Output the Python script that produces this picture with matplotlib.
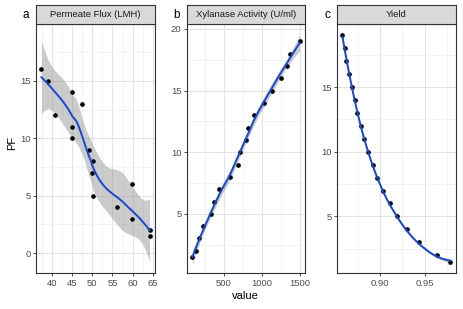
import math
import numpy as np
import matplotlib
matplotlib.use("Agg")
import matplotlib.pyplot as plt
from matplotlib.ticker import FixedLocator

plt.rcParams['font.family'] = ['Liberation Sans', 'DejaVu Sans']

# ---------------- data ----------------
flux_x = [37.4, 39.0, 40.8, 44.9, 47.4, 45.0, 45.0, 49.1, 50.3, 50.0, 50.1, 56.1, 59.9, 59.9, 64.2, 64.2]
flux_pf = [16, 15, 12, 14, 13, 11, 10, 9, 8, 7, 5, 4, 6, 3, 2, 1.5]

xyl_x = [91, 143, 182, 233, 341, 380, 435, 590, 690, 711, 789, 819, 897, 1022, 1138, 1245, 1336, 1375, 1495]
xyl_pf = [1.5, 2, 3, 4, 5, 6, 7, 8, 9, 10, 11, 12, 13, 14, 15, 16, 17, 18, 19]

yield_x = [0.8581, 0.8604, 0.8626, 0.8656, 0.8686, 0.8719, 0.8748, 0.8786, 0.8822, 0.8870,
           0.8919, 0.8970, 0.9033, 0.9108, 0.9196, 0.9303, 0.9441, 0.9641, 0.9786]
yield_pf = [19, 18, 17, 16, 15, 14, 13, 12, 11, 10, 9, 8, 7, 6, 5, 4, 3, 2, 1.5]

titles = ["Permeate Flux (LMH)", "Xylanase Activity (U/ml)", "Yield"]
tags = ["a", "b", "c"]


# ---------------- loess (as geom_smooth: span 0.75, degree 2, kd-tree interpolation) ----------------
def loess_rows(x, x0, span=0.75, degree=2):
    """Return operator rows for fitted value and first derivative at x0."""
    n = len(x)
    q = int(np.floor(n * span))
    d = np.abs(x - x0)
    h = max(np.sort(d)[q - 1], 1e-12)
    u = np.clip(d / h, 0, 1)
    w = (1 - u ** 3) ** 3
    X = np.vstack([(x - x0) ** k for k in range(degree + 1)]).T
    Wm = np.diag(w)
    B = np.linalg.pinv(X.T @ Wm @ X) @ X.T @ Wm
    return B[0], B[1]


def kd_vertices(x, span=0.75, cell=0.2):
    n = len(x)
    fc = int(np.floor(n * span * cell))
    lo, hi = x.min(), x.max()
    mu = 0.005 * (hi - lo)
    verts = {lo - mu, hi + mu}

    def split(pts):
        pts = np.sort(pts)
        m = len(pts)
        if m <= fc or pts[-1] - pts[0] <= 0:
            return
        v = (pts[(m - 1) // 2] + pts[m // 2]) / 2
        left = pts[pts <= v]
        right = pts[pts > v]
        if len(left) == 0 or len(right) == 0:
            return
        verts.add(v)
        split(left)
        split(right)

    split(x)
    return np.array(sorted(verts))


def interp_rows(x, verts, g):
    vals = [loess_rows(x, v) for v in verts]
    k = np.searchsorted(verts, g) - 1
    k = int(np.clip(k, 0, len(verts) - 2))
    x0, x1 = verts[k], verts[k + 1]
    hh = x1 - x0
    t = (g - x0) / hh
    h00 = 2 * t ** 3 - 3 * t ** 2 + 1
    h10 = t ** 3 - 2 * t ** 2 + t
    h01 = -2 * t ** 3 + 3 * t ** 2
    h11 = t ** 3 - t ** 2
    (f0, d0), (f1, d1) = vals[k], vals[k + 1]
    return h00 * f0 + h10 * hh * d0 + h01 * f1 + h11 * hh * d1


def t_quantile(p, df):
    c = math.gamma((df + 1) / 2) / (math.sqrt(df * math.pi) * math.gamma(df / 2))
    t = np.linspace(0, 30, 60001)
    pdf = c * (1 + t ** 2 / df) ** (-(df + 1) / 2)
    cdf = 0.5 + np.concatenate([[0], np.cumsum((pdf[1:] + pdf[:-1]) / 2 * np.diff(t))])
    return float(np.interp(p, cdf, t))


def loess_fit(xs, ys, ngrid=100):
    x = np.asarray(xs, float)
    y = np.asarray(ys, float)
    xm, sc = x.mean(), x.std()
    xs_ = (x - xm) / sc
    n = len(x)
    verts = kd_vertices(xs_)
    L = np.array([interp_rows(xs_, verts, xi) for xi in xs_])
    fitted = L @ y
    M = np.eye(n) - L
    MM = M.T @ M
    d1 = np.trace(MM)
    d2 = np.trace(MM @ MM)
    sigma2 = np.sum((y - fitted) ** 2) / d1
    tq = t_quantile(0.975, d1 ** 2 / d2)
    xg = np.linspace(x.min(), x.max(), ngrid)
    rows = np.array([interp_rows(xs_, verts, (g - xm) / sc) for g in xg])
    yg = rows @ y
    se = np.sqrt(sigma2 * np.sum(rows ** 2, axis=1))
    return xg, yg, yg - tq * se, yg + tq * se


# ---------------- figure ----------------
W, H = 463, 309
fig = plt.figure(figsize=(W / 100, H / 100), dpi=100)

panels = [
    dict(x=flux_x, y=flux_pf, left=36, right=155, xlim=(36.06, 65.54), ylim=(-1.74, 19.95),
         xmaj=[40, 45, 50, 55, 60, 65], xmin=[37.5, 42.5, 47.5, 52.5, 57.5, 62.5],
         ymaj=[0, 5, 10, 15], ymin=[2.5, 7.5, 12.5, 17.5], fmt="{:g}"),
    dict(x=xyl_x, y=xyl_pf, left=187, right=305, xlim=(21, 1565), ylim=(0.2, 20.4),
         xmaj=[500, 1000, 1500], xmin=[250, 750, 1250],
         ymaj=[5, 10, 15, 20], ymin=[2.5, 7.5, 12.5, 17.5], fmt="{:g}"),
    dict(x=yield_x, y=yield_pf, left=337, right=455.5, xlim=(0.852, 0.9846), ylim=(0.625, 19.875),
         xmaj=[0.90, 0.95], xmin=[0.875, 0.925, 0.975],
         ymaj=[5, 10, 15], ymin=[2.5, 7.5, 12.5, 17.5], fmt="{:.2f}"),
]

top_px, bot_px = 24, 273
strip_top = 5
border = "#333333"

for i, p in enumerate(panels):
    l = p["left"] / W
    w = (p["right"] - p["left"]) / W
    b = 1 - bot_px / H
    h = (bot_px - top_px) / H
    ax = fig.add_axes([l, b, w, h])
    ax.set_facecolor("white")
    ax.set_xlim(*p["xlim"])
    ax.set_ylim(*p["ylim"])
    ax.xaxis.set_major_locator(FixedLocator(p["xmaj"]))
    ax.xaxis.set_minor_locator(FixedLocator(p["xmin"]))
    ax.yaxis.set_major_locator(FixedLocator(p["ymaj"]))
    ax.yaxis.set_minor_locator(FixedLocator(p["ymin"]))
    ax.set_xticklabels([p["fmt"].format(v) for v in p["xmaj"]])
    ax.set_yticklabels(["{:g}".format(v) for v in p["ymaj"]])
    ax.grid(True, which="major", color="#E3E3E3", linewidth=0.8, zorder=0)
    ax.grid(True, which="minor", color="#EFEFEF", linewidth=0.5, zorder=0)
    ax.set_axisbelow(True)
    for s in ax.spines.values():
        s.set_color(border)
        s.set_linewidth(0.8)
    ax.tick_params(which="major", length=2.5, width=0.6, color=border,
                   labelsize=6.8, labelcolor="#4D4D4D", pad=1.5)
    ax.tick_params(which="minor", length=0)

    xg, yg, lo, hi = loess_fit(p["x"], p["y"])
    ax.fill_between(xg, lo, hi, color="#999999", alpha=0.5, linewidth=0, zorder=2)
    ax.scatter(p["x"], p["y"], s=14, color="black", zorder=3, edgecolors="white", linewidths=0.3)
    ax.plot(xg, yg, color="#1A48CC", linewidth=1.4, zorder=4)

    # strip
    sax = fig.add_axes([l, 1 - top_px / H, w, (top_px - strip_top) / H])
    sax.set_facecolor("#D9D9D9")
    sax.set_xticks([])
    sax.set_yticks([])
    for s in sax.spines.values():
        s.set_color(border)
        s.set_linewidth(0.8)
    sax.text(0.5, 0.5, titles[i], ha="center", va="center", fontsize=6.8, color="#1A1A1A",
             transform=sax.transAxes)

    fig.text((p["left"] - 10) / W, 1 - 15 / H, tags[i], ha="center", va="center",
             fontsize=8.5, color="black")

fig.text(12 / W, 1 - 143 / H, "PF", rotation=90, ha="center", va="center", fontsize=8, color="black")
fig.text(245.5 / W, 1 - 296 / H, "value", ha="center", va="center", fontsize=8, color="black")

fig.savefig("out.png", dpi=100, facecolor="white")
